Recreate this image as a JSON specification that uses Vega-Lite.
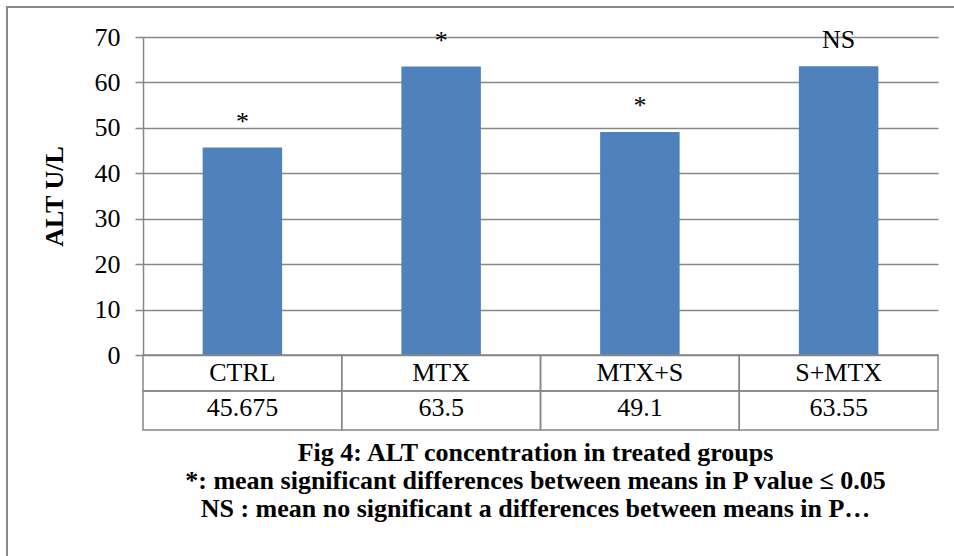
{
  "$schema": "https://vega.github.io/schema/vega-lite/v6.json",
  "autosize": "none",
  "padding": {"left": 7, "top": 7, "right": 0, "bottom": 0},
  "width": 1057,
  "height": 552,
  "background": "white",
  "config": {
    "view": {"stroke": "#878787", "strokeWidth": 2},
    "font": "Liberation Serif, Times New Roman, serif"
  },
  "title": {
    "text": [
      "Fig 4: ALT concentration in treated groups",
      "*: mean significant differences between means in P value ≤ 0.05",
      "NS : mean no significant a differences between means in P…"
    ],
    "orient": "bottom",
    "anchor": "middle",
    "frame": "group",
    "font": "Liberation Serif, Times New Roman, serif",
    "fontSize": 26,
    "fontWeight": "bold",
    "color": "black",
    "lineHeight": 28,
    "offset": -119
  },
  "data": {
    "values": [
      {"group": "CTRL", "value": 45.675, "label": "45.675", "sig": "*"},
      {"group": "MTX", "value": 63.5, "label": "63.5", "sig": "*"},
      {"group": "MTX+S", "value": 49.1, "label": "49.1", "sig": "*"},
      {"group": "S+MTX", "value": 63.55, "label": "63.55", "sig": "NS"}
    ]
  },
  "encoding": {
    "x": {
      "field": "group",
      "type": "nominal",
      "sort": null,
      "axis": null,
      "scale": {"type": "band", "range": [136, 931], "paddingInner": 0, "paddingOuter": 0}
    }
  },
  "layer": [
    {
      "mark": {"type": "bar", "width": {"band": 0.4}, "color": "#4F81BD"},
      "encoding": {
        "y": {
          "field": "value",
          "type": "quantitative",
          "scale": {"domain": [0, 70], "range": [348, 30], "nice": false},
          "axis": {
            "orient": "left",
            "offset": -136,
            "values": [-16.5, -7.92, 0, 10, 20, 30, 40, 50, 60, 70],
            "labelExpr": "datum.value < 0 ? '' : datum.label",
            "labelOverlap": false,
            "labelFlush": false,
            "tickSize": 8,
            "tickColor": "#878787",
            "tickWidth": 1.5,
            "domainColor": "#878787",
            "domainWidth": 1.5,
            "grid": true,
            "gridColor": "#878787",
            "gridWidth": 1.5,
            "gridOpacity": 1,
            "labelFont": "Liberation Serif, Times New Roman, serif",
            "labelFontSize": 26,
            "labelColor": "black",
            "labelPadding": 15,
            "title": "ALT U/L",
            "titleFont": "Liberation Serif, Times New Roman, serif",
            "titleFontSize": 26,
            "titleFontWeight": "bold",
            "titleColor": "black",
            "titlePadding": 27
          }
        }
      }
    },
    {
      "mark": {"type": "rect", "fill": "white", "fillOpacity": 0, "stroke": "#878787", "strokeWidth": 1.5},
      "encoding": {
        "y": {"datum": 0, "type": "quantitative"},
        "y2": {"datum": -7.92}
      }
    },
    {
      "mark": {"type": "rect", "fill": "white", "fillOpacity": 0, "stroke": "#878787", "strokeWidth": 1.5},
      "encoding": {
        "y": {"datum": -7.92, "type": "quantitative"},
        "y2": {"datum": -16.5}
      }
    },
    {
      "mark": {"type": "text", "fontSize": 26, "color": "black", "baseline": "alphabetic", "dy": -18, "font": "Liberation Serif, Times New Roman, serif"},
      "encoding": {
        "y": {"field": "value", "type": "quantitative"},
        "text": {"field": "sig", "type": "nominal"}
      }
    },
    {
      "mark": {"type": "text", "fontSize": 26, "color": "black", "baseline": "middle", "font": "Liberation Serif, Times New Roman, serif"},
      "encoding": {
        "y": {"datum": -3.9, "type": "quantitative"},
        "text": {"field": "group", "type": "nominal"}
      }
    },
    {
      "mark": {"type": "text", "fontSize": 26, "color": "black", "baseline": "middle", "font": "Liberation Serif, Times New Roman, serif"},
      "encoding": {
        "y": {"datum": -11.7, "type": "quantitative"},
        "text": {"field": "label", "type": "nominal"}
      }
    }
  ]
}
